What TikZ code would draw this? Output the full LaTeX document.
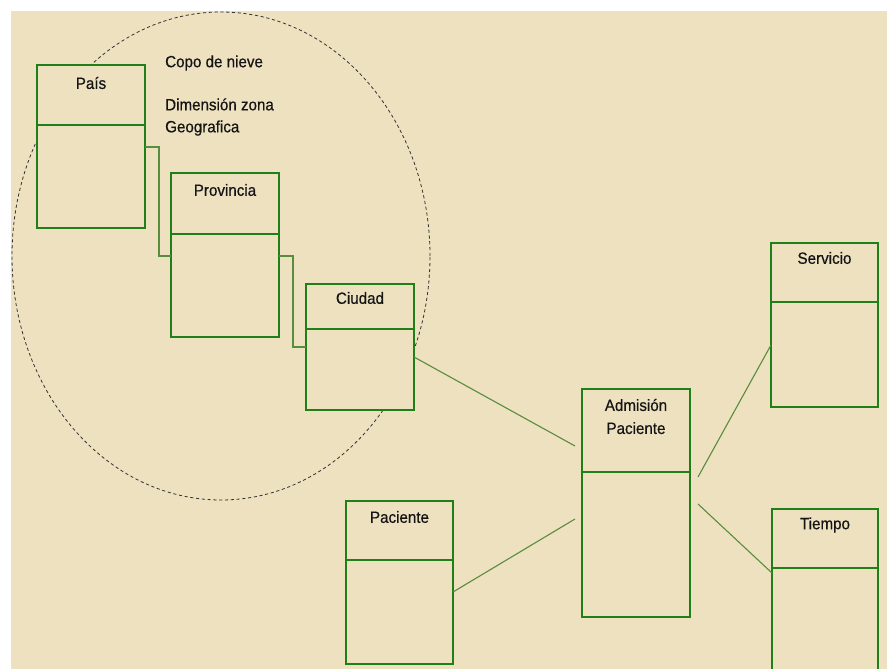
\documentclass[tikz,border=0pt]{standalone}
\usepackage{fontspec}
\setmainfont{Liberation Sans}
\newfontfamily\labelfont[FakeStretch=0.93,FakeBold=0.5]{Liberation Sans}
\definecolor{bg}{RGB}{238,225,192}
\definecolor{boxgreen}{RGB}{32,128,24}
\definecolor{linkgreen}{RGB}{88,140,62}
\definecolor{ink}{RGB}{20,20,20}
\begin{document}
\begin{tikzpicture}[x=1pt,y=-1pt,
  hdr/.style={draw=boxgreen, line width=2pt, fill=bg, inner sep=0pt, outer sep=0pt,
              anchor=north west, minimum width=#1},
  bod/.style={draw=boxgreen, line width=2pt, fill=bg, inner sep=0pt, outer sep=0pt,
              anchor=north west, minimum width=#1},
  title/.style={text=ink, inner sep=0pt, font=\labelfont\fontsize{16.3}{23}\selectfont, align=center},
  note/.style={text=ink, inner sep=0pt, font=\labelfont\fontsize{16.3}{22}\selectfont, align=left, anchor=west},
  elbow/.style={draw=linkgreen, line width=1.1pt},
  link/.style={draw=linkgreen, line width=1.1pt},
  snow/.style={draw=black!80, line width=0.8pt, dash pattern=on 3.2pt off 2.6pt}]

\useasboundingbox (0,0) rectangle (887,669);
\clip (0,0) rectangle (887,669);
\fill[white] (0,0) rectangle (887,669);
\fill[bg] (11,11) rectangle (887,669);

% snowflake dimension grouping
\draw[snow] (221,256) ellipse [x radius=209pt, y radius=244pt];

% labels of the grouping
\node[note] (copo) at (165,63) {Copo de nieve};
\node[note] (dimzona) at (165,117) {Dimensión zona\\Geografica};

% País
\node[hdr=108pt, minimum height=60pt] (paisH) at (37,65) {};
\node[bod=108pt, minimum height=103pt] (paisB) at (paisH.south west) {};
\node[title] (paisT) at ([yshift=-18pt]paisH.north) {País};

% Provincia
\node[hdr=108pt, minimum height=61pt] (provH) at (171,173) {};
\node[bod=108pt, minimum height=103pt] (provB) at (provH.south west) {};
\node[title] (provT) at ([yshift=-17pt]provH.north) {Provincia};

% Ciudad
\node[hdr=108pt, minimum height=45pt] (ciuH) at (306,284) {};
\node[bod=108pt, minimum height=81pt] (ciuB) at (ciuH.south west) {};
\node[title] (ciuT) at ([yshift=-14pt]ciuH.north) {Ciudad};

% Admisión Paciente
\node[hdr=108pt, minimum height=83pt] (admH) at (582,389) {};
\node[bod=108pt, minimum height=145pt] (admB) at (admH.south west) {};
\node[title] (admT) at ([yshift=-27.5pt]admH.north) {Admisión\\Paciente};

% Servicio
\node[hdr=107pt, minimum height=59pt] (servH) at (771,243) {};
\node[bod=107pt, minimum height=105pt] (servB) at (servH.south west) {};
\node[title] (servT) at ([yshift=-15pt]servH.north) {Servicio};

% Tiempo
\node[hdr=106pt, minimum height=59pt] (tiemH) at (772,509) {};
\node[bod=106pt, minimum height=125pt] (tiemB) at (tiemH.south west) {};
\node[title] (tiemT) at ([yshift=-16pt]tiemH.north) {Tiempo};

% Paciente
\node[hdr=107pt, minimum height=59pt] (pacH) at (346,501) {};
\node[bod=107pt, minimum height=104pt] (pacB) at (pacH.south west) {};
\node[title] (pacT) at ([yshift=-16pt]pacH.north) {Paciente};

% hierarchy of the geographic dimension
\draw[elbow] ([yshift=-22pt]paisB.north east) -- ++(14,0) |- ([yshift=-22pt]provB.north west);
\draw[elbow] ([yshift=-22pt]provB.north east) -- ++(14,0) |- ([yshift=-18pt]ciuB.north west);

% dimensions linked to the fact
\draw[link] ([yshift=-28pt]ciuB.north east) -- ([xshift=-7pt,yshift=-57pt]admH.north west);
\draw[link] ([yshift=-32pt]pacB.north east) -- ([xshift=-7pt,yshift=-47pt]admB.north west);
\draw[link] ([xshift=8pt,yshift=-5pt]admB.north east) -- ([yshift=-43pt]servB.north west);
\draw[link] ([xshift=8pt,yshift=-32pt]admB.north east) -- ([yshift=-5pt]tiemB.north west);
\end{tikzpicture}
\end{document}
